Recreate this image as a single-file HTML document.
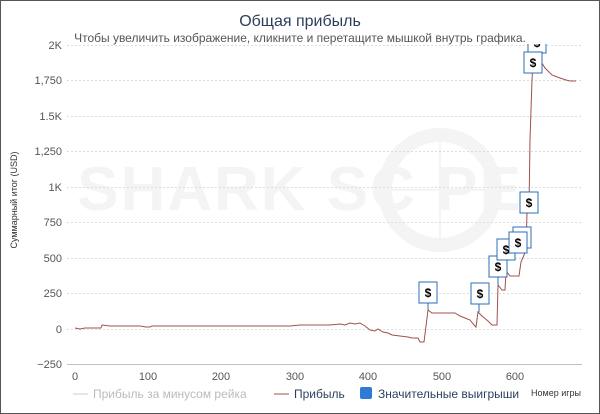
<!DOCTYPE html><html><head><meta charset="utf-8"><style>
body{margin:0;background:#fff}
.w{position:relative;width:598px;height:412px;border:1px solid #555;overflow:hidden;font-family:"Liberation Sans","DejaVu Sans",sans-serif}
</style></head><body><div class="w">
<svg width="598" height="412" viewBox="1 1 598 412" style="position:absolute;left:0;top:0" font-family="Liberation Sans, DejaVu Sans, sans-serif">
<defs><clipPath id="c"><rect x="60" y="44" width="530" height="330"/></clipPath></defs>
<text x="300" y="210" text-anchor="middle" font-size="62" font-weight="bold" fill="#f4f4f4" letter-spacing="2">SHARK SC  PE</text>
<circle cx="440" cy="190" r="55" fill="none" stroke="#f4f4f4" stroke-width="14"/>
<line x1="440" y1="140" x2="440" y2="240" stroke="#f4f4f4" stroke-width="2"/>
<line x1="390" y1="190" x2="490" y2="190" stroke="#f4f4f4" stroke-width="2"/>
<text x="300" y="26" text-anchor="middle" font-size="16" fill="#2b3f5c">Общая прибыль</text>
<text x="300" y="42" text-anchor="middle" font-size="12" fill="#555">Чтобы увеличить изображение, кликните и перетащите мышкой внутрь графика.</text>
<g stroke="#ddd" stroke-dasharray="2,2">
<line x1="67" x2="582" y1="45.5" y2="45.5"/><line x1="67" x2="582" y1="80.5" y2="80.5"/><line x1="67" x2="582" y1="116.5" y2="116.5"/><line x1="67" x2="582" y1="151.5" y2="151.5"/><line x1="67" x2="582" y1="187.5" y2="187.5"/><line x1="67" x2="582" y1="222.5" y2="222.5"/><line x1="67" x2="582" y1="258.5" y2="258.5"/><line x1="67" x2="582" y1="293.5" y2="293.5"/><line x1="67" x2="582" y1="329.5" y2="329.5"/>
</g>
<line x1="67" x2="582" y1="364.5" y2="364.5" stroke="#c0c0c0"/>
<g font-size="11" fill="#555" text-anchor="end">
<text x="62" y="49">2K</text><text x="62" y="84">1,750</text><text x="62" y="120">1.5K</text><text x="62" y="155">1,250</text><text x="62" y="191">1K</text><text x="62" y="226">750</text><text x="62" y="262">500</text><text x="62" y="297">250</text><text x="62" y="333">0</text><text x="62" y="368">−250</text>
</g>
<g font-size="11" fill="#555" text-anchor="middle">
<text x="75" y="380">0</text><text x="148" y="380">100</text><text x="221" y="380">200</text><text x="295" y="380">300</text><text x="368" y="380">400</text><text x="442" y="380">500</text><text x="515" y="380">600</text>
</g>
<text transform="translate(17,200) rotate(-90)" text-anchor="middle" font-size="9" fill="#333">Суммарный итог (USD)</text>
<g clip-path="url(#c)">
<polyline fill="none" stroke="#a0504c" stroke-width="1" points="75,328 80,329 85,328 95,328 101,328 102,325 110,326 140,326 146,327 150,327 152,326 180,326 230,326 270,326 290,326 300,325 330,325 340,324 345,325 350,323 355,324 360,323 365,326 370,330 375,331 378,329 383,332 388,333 392,335 400,336 408,337 412,338 418,338 420,342 424,342 428,310 432,313 440,313 455,313 460,316 465,318 470,320 474,325 476,327 478,312 482,316 488,321 492,325 497,325 498,285 502,290 505,290 506,271 510,276 515,276 519,276 521,262 524,255 526,250 527,212 529,208 530,140 532,80 534,45 537,45 540,60 545,68 552,75 560,78 566,80 570,81 576,81"/>
<g fill="#fff" stroke="#2e6cb5" stroke-width="1">
<line x1="428" y1="303" x2="428" y2="310"/>
<line x1="479" y1="304" x2="479" y2="312"/>
<line x1="498" y1="277" x2="498" y2="285"/>
<rect x="419" y="282" width="18" height="21"/>
<rect x="471" y="283" width="18" height="21"/>
<rect x="489" y="256" width="18" height="21"/>
<rect x="497" y="239" width="18" height="21"/>
<rect x="513" y="227" width="18" height="21"/>
<rect x="509" y="232" width="18" height="21"/>
<rect x="520" y="192" width="18" height="21"/>
<rect x="528" y="32" width="18" height="21"/>
<rect x="524" y="52" width="18" height="21"/>
</g>
<g font-size="12" font-weight="bold" fill="#000" text-anchor="middle">
<text x="428" y="297">$</text><text x="480" y="298">$</text><text x="498" y="271">$</text><text x="506" y="254">$</text><text x="518" y="247">$</text><text x="529" y="207">$</text><text x="537" y="47">$</text><text x="533" y="67">$</text>
</g>
</g>
<line x1="73" x2="88" y1="394" y2="394" stroke="#ccc"/>
<text x="93" y="398" font-size="12" fill="#bbb">Прибыль за минусом рейка</text>
<line x1="274" x2="289" y1="394" y2="394" stroke="#a0504c"/>
<text x="294" y="398" font-size="12" fill="#2b3f5c">Прибыль</text>
<rect x="360" y="387" width="12" height="12" rx="2" fill="#2e7bd6"/>
<text x="378" y="398" font-size="12" fill="#2b3f5c">Значительные выигрыши</text>
<text x="581" y="396" text-anchor="end" font-size="9" fill="#333">Номер игры</text>
</svg></div></body></html>
